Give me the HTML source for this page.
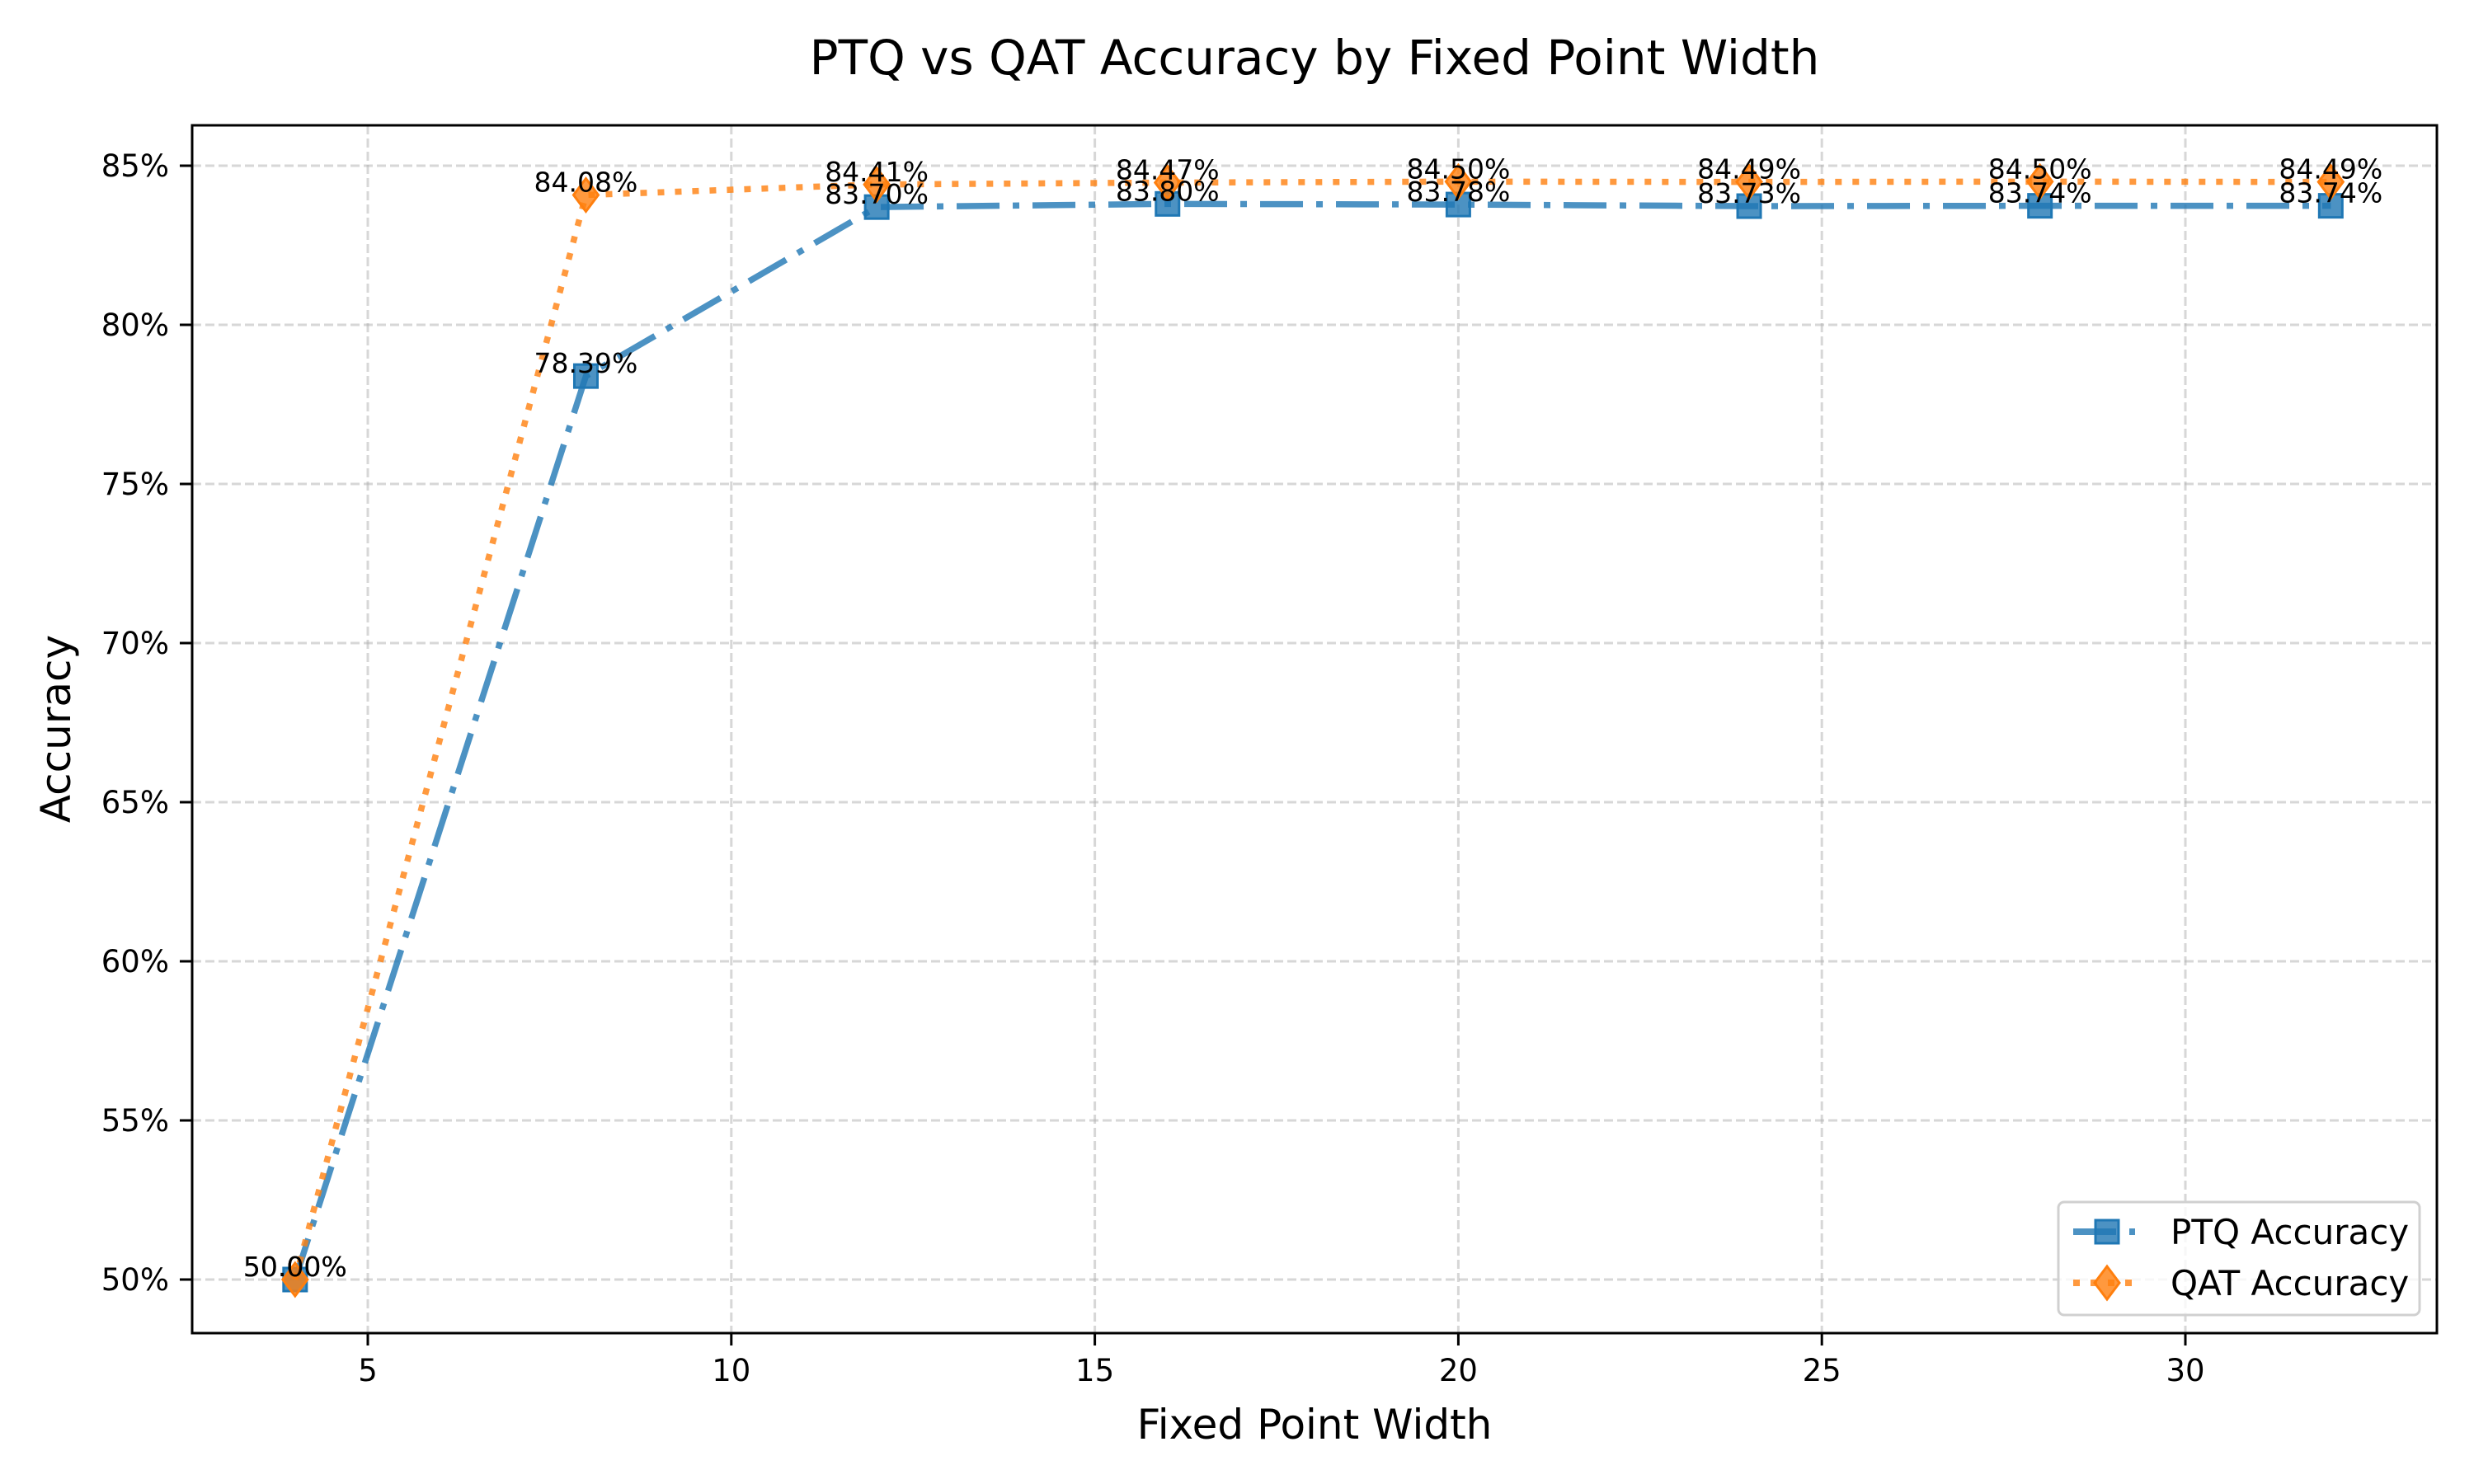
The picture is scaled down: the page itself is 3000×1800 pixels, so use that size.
<!DOCTYPE html>
<html><head><meta charset="utf-8"><style>body{margin:0;background:#fff}svg{display:block}text{font-family:"DejaVu Sans","Liberation Sans",sans-serif}</style></head>
<body>
<svg id="chart" width="3000" height="1800" viewBox="0 0 3000 1800" xmlns="http://www.w3.org/2000/svg">
<text x="1594" y="90" font-size="58" text-anchor="middle">PTQ vs QAT Accuracy by Fixed Point Width</text>
<g id="grid"></g>
<g id="ticks"></g>
<g id="series"></g>
<rect x="233" y="152" width="2722" height="1465" fill="none" stroke="#000" stroke-width="3"/>
<text x="1594" y="1745" font-size="50" text-anchor="middle">Fixed Point Width</text>
<text x="0" y="0" font-size="50" text-anchor="middle" transform="translate(85,884) rotate(-90)">Accuracy</text>
<g>
<rect x="2496" y="1458" width="438" height="137" rx="7" fill="#fff" fill-opacity="0.8" stroke="#d0d0d0" stroke-width="3"/>
<g>
<line x1="2514" y1="1494" x2="2589" y2="1494" stroke="#1f77b4" stroke-opacity="0.8" stroke-width="8" stroke-dasharray="52,16,8,16"/>
<rect x="2541" y="1480" width="28" height="28" fill="#1f77b4" fill-opacity="0.8" stroke="#1f77b4" stroke-width="3"/>
<text x="2632" y="1509" font-size="42">PTQ Accuracy</text></g>
<g>
<line x1="2514" y1="1556" x2="2589" y2="1556" stroke="#ff7f0e" stroke-opacity="0.8" stroke-width="8" stroke-dasharray="8,13"/>
<polygon points="2555,1536 2570,1556 2555,1576 2540,1556" fill="#ff7f0e" fill-opacity="0.8" stroke="#ff7f0e" stroke-width="3"/>
<text x="2632" y="1571" font-size="42">QAT Accuracy</text></g>
</g>
</svg>
<script>
const widths = [4, 8, 12, 16, 20, 24, 28, 32];
const ptqValues = [50.00, 78.39, 83.70, 83.80, 83.78, 83.73, 83.74, 83.74];
const qatValues = [50.00, 84.08, 84.41, 84.47, 84.50, 84.49, 84.50, 84.49];
const xTicks = [5, 10, 15, 20, 25, 30];
const yTicks = [50, 55, 60, 65, 70, 75, 80, 85];

const NS = "http://www.w3.org/2000/svg";
function xs(v){ return 446 + (v - 5) * (2650 - 446) / 25; }
function ys(v){ return 1552 - (v - 50) * (1552 - 201) / 35; }
function mk(tag, attrs, parent){ const e = document.createElementNS(NS, tag); for (const k in attrs) e.setAttribute(k, attrs[k]); parent.appendChild(e); return e; }
const grid = document.getElementById('grid'), ticks = document.getElementById('ticks'), series = document.getElementById('series');

xTicks.forEach(t => {
  const g = mk('line', {x1: xs(t), x2: xs(t), y1: 152, y2: 1617, stroke: '#b0b0b0', 'stroke-opacity': 0.5, 'stroke-width': 3, 'stroke-dasharray': '11,5'}, grid);
  
  
  const tk = mk('line', {x1: xs(t), x2: xs(t), y1: 1617, y2: 1632, stroke: '#000', 'stroke-width': 3}, ticks);
  
  
  const tl = mk('text', {x: xs(t), y: 1675, 'font-size': 37, 'text-anchor': 'middle'}, ticks);
  tl.textContent = t;
  
  
});
yTicks.forEach(t => {
  const g = mk('line', {x1: 233, x2: 2955, y1: ys(t), y2: ys(t), stroke: '#b0b0b0', 'stroke-opacity': 0.5, 'stroke-width': 3, 'stroke-dasharray': '11,5'}, grid);
  
  
  const tk = mk('line', {x1: 218, x2: 233, y1: ys(t), y2: ys(t), stroke: '#000', 'stroke-width': 3}, ticks);
  
  
  const tl = mk('text', {x: 205, y: ys(t) + 13, 'font-size': 37, 'text-anchor': 'end'}, ticks);
  tl.textContent = t + '%';
  
  
});

function drawSeries(vals, color, dash, marker, name){
  const pts = widths.map((w, i) => xs(w) + ',' + ys(vals[i])).join(' ');
  const pl = mk('polyline', {points: pts, fill: 'none', stroke: color, 'stroke-opacity': 0.8, 'stroke-width': 7.5, 'stroke-dasharray': dash}, series);
  
  
  widths.forEach((w, i) => {
    const cx = xs(w), cy = ys(vals[i]);
    let m;
    if (marker === 'square') m = mk('rect', {x: cx - 14, y: cy - 14, width: 28, height: 28, fill: color, 'fill-opacity': 0.8, stroke: color, 'stroke-width': 3}, series);
    else m = mk('polygon', {points: `${cx},${cy-20} ${cx+15},${cy} ${cx},${cy+20} ${cx-15},${cy}`, fill: color, 'fill-opacity': 0.8, stroke: color, 'stroke-width': 3}, series);
    
    
  });
}
function drawLabels(vals, name){
  widths.forEach((w, i) => {
    const t = mk('text', {x: xs(w), y: ys(vals[i]) - 4, 'font-size': 33, 'text-anchor': 'middle'}, series);
    t.textContent = vals[i].toFixed(2) + '%';
    
    
  });
}
drawSeries(ptqValues, '#1f77b4', '52,16,8,16', 'square', 'ptq');
drawSeries(qatValues, '#ff7f0e', '8,13', 'diamond', 'qat');
drawLabels(ptqValues, 'ptq');
drawLabels(qatValues, 'qat');
</script>
</body></html>
